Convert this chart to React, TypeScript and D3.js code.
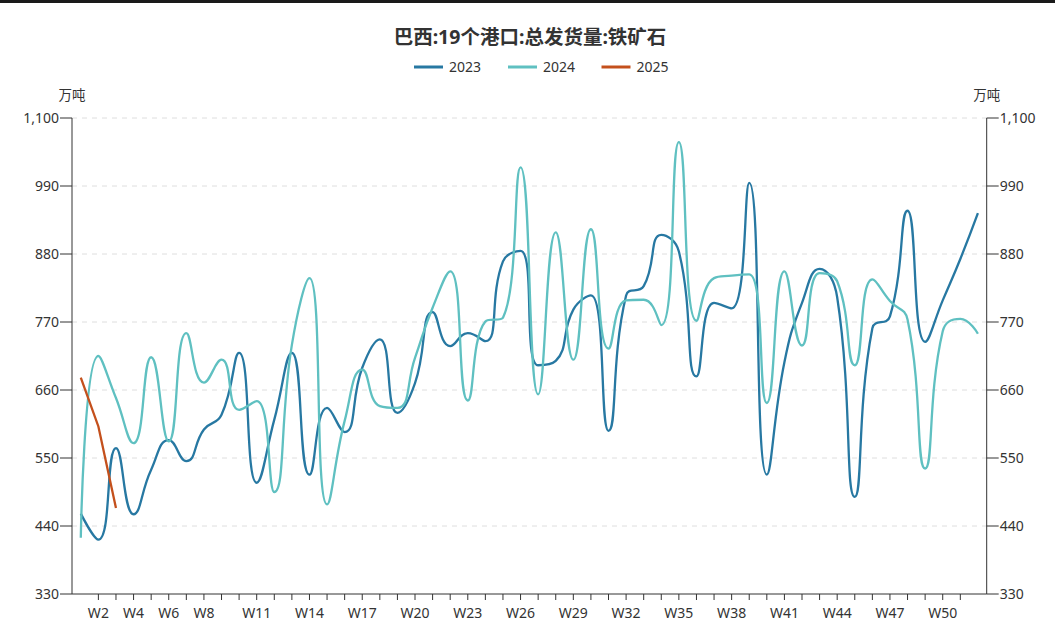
import React from "react";
import * as d3 from "d3";

const weeks = [
  "W1","W2","W3","W4","W5","W6","W7","W8","W9","W10","W11","W12","W13",
  "W14","W15","W16","W17","W18","W19","W20","W21","W22","W23","W24","W25","W26",
  "W27","W28","W29","W30","W31","W32","W33","W34","W35","W36","W37","W38","W39",
  "W40","W41","W42","W43","W44","W45","W46","W47","W48","W49","W50","W51","W52",
];

const s2023 = [460, 418, 566, 459, 531, 579, 545, 596, 620, 720, 510, 612, 720, 523, 631, 592, 696, 742, 623, 671, 786, 731, 752, 739, 868, 885, 700, 707, 790, 813, 594, 813, 828, 911, 884, 682, 801, 792, 995, 523, 705, 801, 856, 810, 487, 760, 779, 950, 738, 805, 872, 946];
const s2024 = [421, 715, 647, 574, 713, 577, 752, 672, 709, 628, 642, 495, 733, 841, 475, 610, 693, 634, 631, 712, 793, 852, 643, 771, 777, 1020, 653, 915, 709, 920, 727, 805, 806, 765, 1061, 772, 841, 845, 847, 639, 852, 732, 849, 836, 700, 839, 804, 774, 533, 755, 775, 751];
const s2025 = [680, 601, 469];

const yTicks = [330, 440, 550, 660, 770, 880, 990, 1100];
const xLabels = ["W2","W4","W6","W8","W11","W14","W17","W20","W23","W26","W29","W32","W35","W38","W41","W44","W47","W50"];
const xTickWeeks = weeks.slice(1, 51);

const seriesNames = ["2023", "2024", "2025"];
const seriesColors = ["#2778a2", "#5fc0c1", "#c4501c"];
const seriesSmooth = [0.5, 0.5, 0];

// ECharts-like smooth curve (with control point clamping)
function echartsCurve(smooth: number) {
  return (context: any) => {
    let pts: [number, number][] = [];
    return {
      areaStart() {},
      areaEnd() {},
      lineStart() { pts = []; },
      point(x: number, y: number) { pts.push([+x, +y]); },
      lineEnd() {
        const n = pts.length;
        if (!n) return;
        let prevX = pts[0][0], prevY = pts[0][1];
        context.moveTo(prevX, prevY);
        let cpx0 = prevX, cpy0 = prevY;
        for (let i = 1; i < n; i++) {
          const x = pts[i][0], y = pts[i][1];
          if (smooth <= 0) {
            context.lineTo(x, y);
            prevX = x; prevY = y;
            continue;
          }
          let cpx1: number, cpy1: number;
          let nextCpx0 = x, nextCpy0 = y;
          if (i === n - 1) {
            cpx1 = x; cpy1 = y;
          } else {
            const nx = pts[i + 1][0], ny = pts[i + 1][1];
            let vx = nx - prevX, vy = ny - prevY;
            const dx0 = x - prevX, dy0 = y - prevY, dx1 = nx - x, dy1 = ny - y;
            const lenPrev = Math.sqrt(dx0 * dx0 + dy0 * dy0);
            const lenNext = Math.sqrt(dx1 * dx1 + dy1 * dy1);
            const ratio = lenNext / (lenNext + lenPrev);
            nextCpx0 = x + vx * smooth * ratio;
            nextCpy0 = y + vy * smooth * ratio;
            nextCpx0 = Math.min(nextCpx0, Math.max(nx, x));
            nextCpy0 = Math.min(nextCpy0, Math.max(ny, y));
            nextCpx0 = Math.max(nextCpx0, Math.min(nx, x));
            nextCpy0 = Math.max(nextCpy0, Math.min(ny, y));
            vx = nextCpx0 - x; vy = nextCpy0 - y;
            cpx1 = x - vx * lenPrev / lenNext;
            cpy1 = y - vy * lenPrev / lenNext;
            cpx1 = Math.min(cpx1, Math.max(prevX, x));
            cpy1 = Math.min(cpy1, Math.max(prevY, y));
            cpx1 = Math.max(cpx1, Math.min(prevX, x));
            cpy1 = Math.max(cpy1, Math.min(prevY, y));
            vx = x - cpx1; vy = y - cpy1;
            nextCpx0 = x + vx * lenNext / lenPrev;
            nextCpy0 = y + vy * lenNext / lenPrev;
          }
          context.bezierCurveTo(cpx0, cpy0, cpx1, cpy1, x, y);
          cpx0 = nextCpx0; cpy0 = nextCpy0;
          prevX = x; prevY = y;
        }
      },
    };
  };
}

export default function App() {
  const W = 1055, H = 637;
  const left = 72, right = 986.7, top = 118, bottom = 594;
  const font = "'Noto Sans', 'Noto Sans CJK SC', sans-serif";

  const x = d3.scaleBand<string>().domain(weeks).range([left, right]);
  const cx = (w: string) => (x(w) as number) + x.bandwidth() / 2;
  const y = d3.scaleLinear().domain([330, 1100]).range([bottom, top]);
  const fmt = d3.format(",");

  const makeLine = (smooth: number) =>
    d3
      .line<number>()
      .x((_, i) => cx(weeks[i]))
      .y((d) => y(d))
      .curve(echartsCurve(smooth) as any);

  const data = [s2023, s2024, s2025];

  const legendX = [414, 508, 601.5];

  return (
    <svg width={W} height={H} style={{ position: "absolute", left: 0, top: 0, background: "#fff" }} fontFamily={font}>
      <rect x={0} y={0} width={W} height={3} fill="#1a1a1a" />
      <text x={530} y={43.5} textAnchor="middle" fontSize={19.5} fontWeight="bold" fill="#333">
        巴西:19个港口:总发货量:铁矿石
      </text>
      {seriesNames.map((s, i) => (
        <g key={s}>
          <line x1={legendX[i]} x2={legendX[i] + 29} y1={67} y2={67} stroke={seriesColors[i]} strokeWidth={3} />
          <text x={legendX[i] + 35} y={72} fontSize={14} fill="#333">{s}</text>
        </g>
      ))}
      {/* grid */}
      {yTicks.slice(1).map((t) => (
        <line key={t} x1={left} x2={right} y1={y(t)} y2={y(t)} stroke="#dedede" strokeDasharray="5,5" />
      ))}
      {/* left axis */}
      <line x1={left} x2={left} y1={top} y2={bottom} stroke="#333" />
      {yTicks.map((t) => (
        <g key={"l" + t}>
          <line x1={left - 12} x2={left} y1={y(t)} y2={y(t)} stroke="#333" />
          <text x={left - 13} y={y(t) + 5} textAnchor="end" fontSize={14} fill="#333">{fmt(t)}</text>
        </g>
      ))}
      <text x={left} y={100} textAnchor="middle" fontSize={13.5} fill="#333">万吨</text>
      {/* right axis */}
      <line x1={right} x2={right} y1={top} y2={bottom} stroke="#333" />
      {yTicks.map((t) => (
        <g key={"r" + t}>
          <line x1={right} x2={right + 12} y1={y(t)} y2={y(t)} stroke="#333" />
          <text x={right + 13} y={y(t) + 5} textAnchor="start" fontSize={14} fill="#333">{fmt(t)}</text>
        </g>
      ))}
      <text x={right} y={100} textAnchor="middle" fontSize={13.5} fill="#333">万吨</text>
      {/* x axis */}
      <line x1={left} x2={right} y1={bottom} y2={bottom} stroke="#333" />
      {xTickWeeks.map((w) => (
        <line key={"t" + w} x1={cx(w)} x2={cx(w)} y1={bottom} y2={bottom + 6} stroke="#333" />
      ))}
      {xLabels.map((w) => (
        <text key={"x" + w} x={cx(w)} y={bottom + 24} textAnchor="middle" fontSize={14} fill="#333">{w}</text>
      ))}
      {/* lines */}
      {data.map((d, i) => (
        <path key={i} d={makeLine(seriesSmooth[i])(d) || ""} fill="none" stroke={seriesColors[i]} strokeWidth={2.3} />
      ))}
    </svg>
  );
}
